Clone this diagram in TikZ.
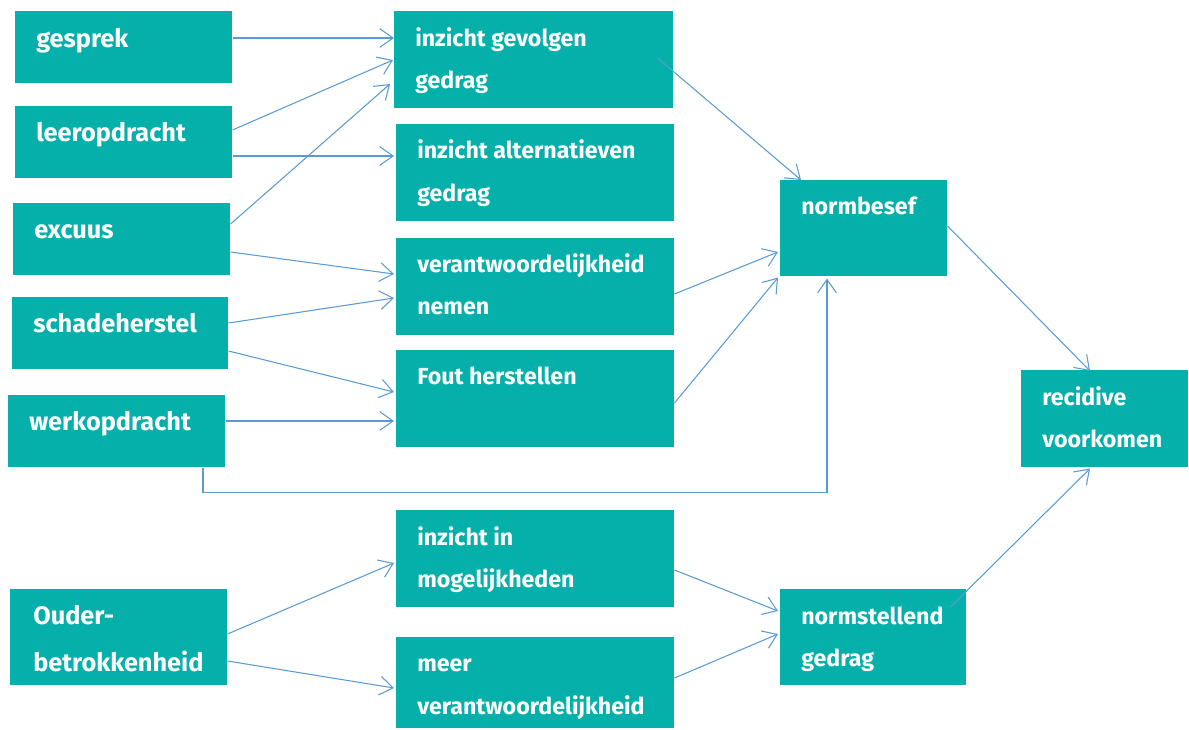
\documentclass[tikz,border=0pt]{standalone}
\usepackage{fontspec}
\setmainfont{Fira Sans}
\usetikzlibrary{arrows.meta,calc}
\definecolor{teal}{RGB}{6,176,170}
\definecolor{arrowblue}{RGB}{91,155,213}
\tikzset{
  box/.style={fill=teal, draw=none, inner sep=0pt},
  lbl/.style={text=white, font=\fontsize{17.4}{21}\selectfont\bfseries, inner sep=0pt, anchor=base west},
  lblbig/.style={lbl, font=\fontsize{19}{23}\selectfont\bfseries},
  arr/.style={draw=arrowblue, line width=0.8pt, -{Straight Barb[length=10pt,width=14pt,line width=0.8pt]}}
}
\begin{document}
\begin{tikzpicture}[x=0.75pt,y=-0.75pt]
\useasboundingbox (0,0) rectangle (1189,729);
% boxes as rectangle nodes
\newcommand\bx[5]{\node[box, anchor=north west, minimum width={(#4-#2)*0.75pt}, minimum height={(#5-#3)*0.75pt}] (#1) at (#2,#3) {};}
\bx{ges}{15}{11}{232}{83}
\bx{lee}{15}{106}{232}{178}
\bx{exc}{13}{203}{230}{275}
\bx{sch}{12}{297}{228}{369}
\bx{wer}{8}{395}{225}{467}
\bx{oud}{10}{589}{227}{685}
\bx{igg}{394}{11}{673}{108}
\bx{iag}{396}{124}{674}{221}
\bx{ver}{396}{238}{674}{335}
\bx{fou}{396}{350}{674}{447}
\bx{iim}{396}{510}{674}{607}
\bx{mvr}{396}{637}{674}{728}
\bx{nbf}{780}{180}{947}{276}
\bx{nsg}{780}{589}{966}{685}
\bx{rec}{1021}{370}{1188}{467}
% labels
\node[lblbig] (ges-t) at (36,47) {gesprek};
\node[lblbig] (lee-t) at (36,141) {leeropdracht};
\node[lblbig] (exc-t) at (34,238) {excuus};
\node[lblbig] (sch-t) at (33,332) {schadeherstel};
\node[lblbig] (wer-t) at (29,430) {werkopdracht};
\node[lblbig] (oud-t1) at (33,624) {Ouder-};
\node[lblbig] (oud-t2) at (33,671) {betrokkenheid};
\node[lbl] (igg-t1) at (415,46) {inzicht gevolgen};
\node[lbl] (igg-t2) at (415,88) {gedrag};
\node[lbl] (iag-t1) at (417,158) {inzicht alternatieven};
\node[lbl] (iag-t2) at (417,201) {gedrag};
\node[lbl] (ver-t1) at (417,272) {verantwoordelijkheid};
\node[lbl] (ver-t2) at (417,314) {nemen};
\node[lbl] (fou-t) at (417,384) {Fout herstellen};
\node[lbl] (iim-t1) at (417,545) {inzicht in};
\node[lbl] (iim-t2) at (417,587) {mogelijkheden};
\node[lbl] (mvr-t1) at (417,671) {meer};
\node[lbl] (mvr-t2) at (417,714) {verantwoordelijkheid};
\node[lbl] (nbf-t) at (801,214) {normbesef};
\node[lbl] (nsg-t1) at (801,624) {normstellend};
\node[lbl] (nsg-t2) at (801,666) {gedrag};
\node[lbl] (rec-t1) at (1042,405) {recidive};
\node[lbl] (rec-t2) at (1042,447) {voorkomen};
% connectors
\draw[arr] ($(ges.north east)+(0,27)$) -- ($(igg.north west)+(0,27)$);
\draw[arr] ($(lee.north east)+(0,24)$) -- ($(igg.north west)+(-1,49)$);
\draw[arr] ($(lee.north east)+(0,50)$) -- ($(iag.north west)+(-2,32)$);
\draw[arr] ($(exc.north east)+(0,21)$) -- ($(igg.north west)+(-4,73)$);
\draw[arr] ($(exc.north east)+(0,49)$) -- ($(ver.north west)+(-2,36)$);
\draw[arr] ($(sch.north east)+(0,26)$) -- ($(ver.north west)+(-2,60)$);
\draw[arr] ($(sch.north east)+(0,54)$) -- ($(fou.north west)+(-2,42)$);
\draw[arr] ($(wer.north east)+(0,26)$) -- ($(fou.north west)+(-2,71)$);
\draw[arr] ($(wer.south west)+(195,0)$) -- ++(0,25) -| ($(nbf.south west)+(47,2)$);
\draw[arr] ($(igg.north east)+(-16,47)$) -- ($(nbf.north west)+(21,0)$);
\draw[arr] ($(ver.north east)+(0,56)$) -- ($(nbf.north west)+(-2,72)$);
\draw[arr] ($(fou.north east)+(0,53)$) -- ($(nbf.south west)+(-2,1)$);
\draw[arr] ($(nbf.north east)+(0,46)$) -- ($(rec.north west)+(69,1)$);
\draw[arr] ($(iim.north east)+(0,60)$) -- ($(nsg.north west)+(-2,22)$);
\draw[arr] ($(mvr.north east)+(0,41)$) -- ($(nsg.north west)+(-2,45)$);
\draw[arr] ($(nsg.north east)+(-16,18)$) -- ($(rec.south west)+(69,1)$);
\draw[arr] ($(oud.north east)+(0,45)$) -- ($(iim.north west)+(-2,53)$);
\draw[arr] ($(oud.north east)+(0,72)$) -- ($(mvr.north west)+(-2,51)$);
\end{tikzpicture}
\end{document}
